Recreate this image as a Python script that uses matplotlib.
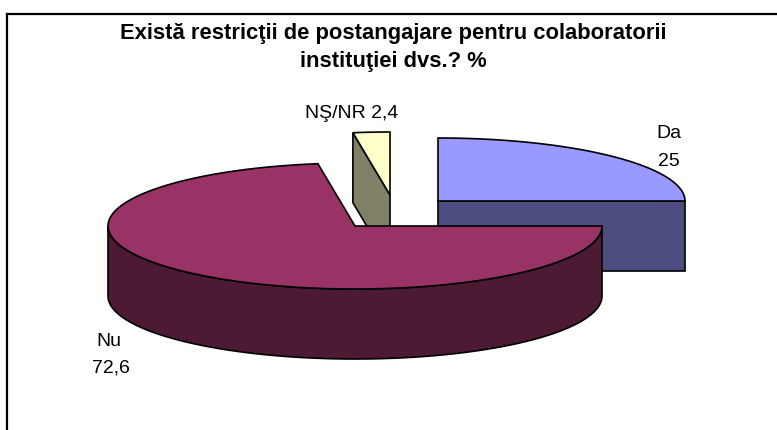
import numpy as np
import matplotlib
matplotlib.use("Agg")
import matplotlib.pyplot as plt

plt.rcParams['font.family'] = ['Liberation Sans', 'DejaVu Sans']

title_lines = ["Există restricţii de postangajare pentru colaboratorii", "instituţiei dvs.? %"]
labels = ["Da", "Nu", "NŞ/NR"]
values = [25, 72.6, 2.4]
value_text = ["25", "72,6", "2,4"]
top_colors = ["#9999ff", "#993366", "#ffffcc"]
side_colors = ["#4d4d80", "#4d1a33", "#808066"]

# pie geometry in pixels, each slice is pulled out to its own centre
centers = [(438, 201), (355, 226), (390, 195)]
rx = 247
ry = 63
depth = 70


def point(cx, cy, deg):
    # degrees go clockwise from 12 o'clock, like Excel
    a = np.radians(deg)
    return cx + rx * np.sin(a), cy - ry * np.cos(a)


def draw_slice(i, start, end):
    cx, cy = centers[i]
    deg = np.linspace(start, end, 200)
    xs, ys = point(cx, cy, deg)

    # outer rim, only the part turned to the viewer
    low = max(start, 90)
    high = min(end, 270)
    if low < high:
        d = np.linspace(low, high, 200)
        rim_x, rim_y = point(cx, cy, d)
        ax.fill(np.r_[rim_x, rim_x[::-1]], np.r_[rim_y, rim_y[::-1] + depth],
                fc=side_colors[i], ec="black", lw=1.2)

    # cut faces that can be seen
    if start >= 270:
        x0, y0 = point(cx, cy, start)
        ax.fill([x0, cx, cx, x0], [y0, cy, cy + depth, y0 + depth],
                fc=side_colors[i], ec="black", lw=1.2)
    if end <= 90 + 1e-6:
        x1, y1 = point(cx, cy, end)
        ax.fill([cx, x1, x1, cx], [cy, y1, y1 + depth, cy + depth],
                fc=side_colors[i], ec="black", lw=1.2)

    ax.fill(np.r_[cx, xs], np.r_[cy, ys], fc=top_colors[i], ec="black", lw=1.2)


fig = plt.figure(figsize=(7.77, 4.30), dpi=100)
ax = fig.add_axes([0, 0, 1, 1])
ax.set_xlim(0, 777)
ax.set_ylim(430, 0)
ax.axis("off")

# frame runs off the right and bottom of the picture
ax.plot([7, 7], [440, 13.5], color="black", lw=1.6, solid_capstyle="projecting")
ax.plot([7, 790], [13.5, 13.5], color="black", lw=1.6)

angles = np.cumsum([0] + values) * 3.6
# Nu goes last, it sits in front of the other two
for i in [0, 2, 1]:
    draw_slice(i, angles[i], angles[i + 1])

ax.text(393, 34, title_lines[0], ha="center", va="center", fontsize=15.8, fontweight="bold")
ax.text(393, 62, title_lines[1], ha="center", va="center", fontsize=15.8, fontweight="bold")
ax.text(669, 134, labels[0], ha="center", va="center", fontsize=14)
ax.text(669, 161, value_text[0], ha="center", va="center", fontsize=14)
ax.text(109, 342, labels[1], ha="center", va="center", fontsize=14)
ax.text(111, 368, value_text[1], ha="center", va="center", fontsize=14)
ax.text(352, 113, labels[2] + " " + value_text[2], ha="center", va="center", fontsize=14)

fig.savefig("out.png", dpi=100)
